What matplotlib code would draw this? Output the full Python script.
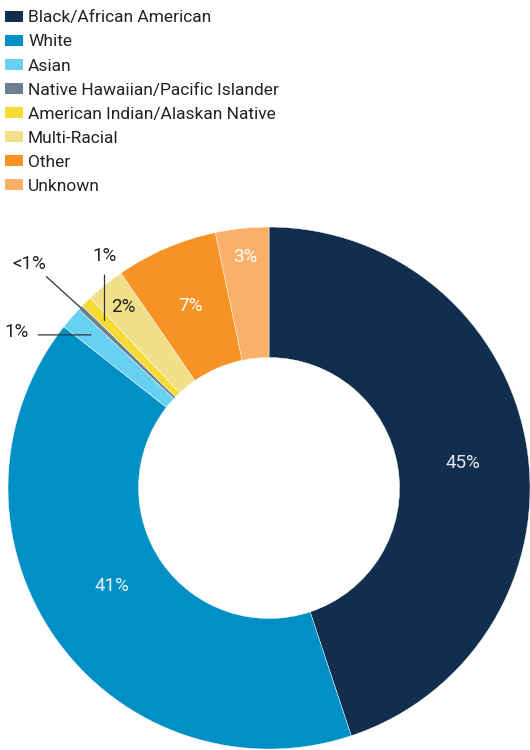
import numpy as np
import matplotlib
matplotlib.use('Agg')
import matplotlib.pyplot as plt
from matplotlib.patches import Patch

plt.rcParams['font.family'] = ['Roboto', 'DejaVu Sans']

groups = ['Black/African American', 'White', 'Asian', 'Native Hawaiian/Pacific Islander',
          'American Indian/Alaskan Native', 'Multi-Racial', 'Other', 'Unknown']
shares = [44.9, 40.7, 1.4, 0.3, 0.7, 2.4, 6.3, 3.3]
labels = ['45%', '41%', '1%', '<1%', '1%', '2%', '7%', '3%']
colors = ['#122e4f', '#0090c6', '#66d1f0', '#6e7f92', '#f5db33', '#f0e08a', '#f79224', '#fbb06a']

fig = plt.figure(figsize=(5.3, 7.5), dpi=100)
ax = fig.add_axes([0.0151, 0.0013, 0.985, 0.696])

wedges, _ = ax.pie(shares, colors=colors, startangle=90, counterclock=False,
                   radius=1.0, wedgeprops=dict(width=0.5, edgecolor='white', linewidth=0.3))
ax.set_xlim(-1, 1)
ax.set_ylim(-1, 1)
ax.set_aspect('equal')
ax.axis('off')

def mid(w, nudge=0.0):
    return np.deg2rad((w.theta1 + w.theta2) / 2 + nudge)

fs = 13.5
dark = '#222222'

# labels inside the wedges: radius, angle nudge (deg), colour
inside = {0: (0.75, -1.9, '#e6e9ee'), 1: (0.71, -3.3, '#e6f3fa'), 5: (0.89, 0, dark),
          6: (0.76, 0, 'white'), 7: (0.89, 0, 'white')}
for i, (r, d, c) in inside.items():
    a = mid(wedges[i], d)
    ax.text(r * np.cos(a), r * np.sin(a), labels[i], ha='center', va='center',
            fontsize=fs, color=c)

# callouts for the thin slices
lc = dict(arrowstyle='-', color='#333333', lw=0.9, shrinkA=0, shrinkB=0)
a = mid(wedges[2])
p = (0.9 * np.cos(a), 0.9 * np.sin(a))
ax.annotate('', xy=p, xytext=(-0.884, p[1]), arrowprops=lc)
ax.text(-0.92, p[1] + 0.01, labels[2], ha='right', va='center', fontsize=fs, color=dark)

a = mid(wedges[3])
p = (np.cos(a), np.sin(a))
ax.annotate('', xy=p, xytext=(-0.853, 0.81), arrowprops=lc)
ax.text(-0.92, 0.86, labels[3], ha='center', va='center', fontsize=fs, color=dark)

a = mid(wedges[4])
p = (0.9 * np.cos(a), 0.9 * np.sin(a))
ax.annotate('', xy=p, xytext=(p[0], 0.816), arrowprops=lc)
ax.text(p[0], 0.89, labels[4], ha='center', va='center', fontsize=fs, color=dark)

handles = [Patch(facecolor=c, edgecolor='none') for c in colors]
fig.legend(handles, groups, loc='upper left', bbox_to_anchor=(0.0, 0.993), frameon=False,
           fontsize=12.5, handlelength=1.0, handleheight=0.6, handletextpad=0.32,
           labelspacing=0.52, borderaxespad=0.0, borderpad=0.3, labelcolor=dark)

fig.savefig('out.png', dpi=100)
